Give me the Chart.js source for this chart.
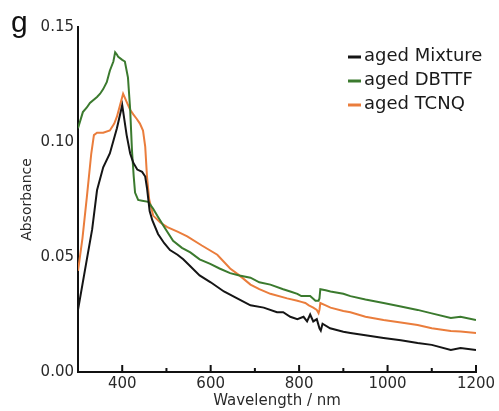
<!DOCTYPE html>
<html>
<head>
<meta charset="utf-8">
<script src="https://cdn.jsdelivr.net/npm/chart.js@4"></script>
<style>
  html, body { margin: 0; padding: 0; background: #fff; }
  #wrap { width: 499px; height: 411px; }
</style>
</head>
<body>
<div id="wrap"><canvas id="absChart" width="499" height="411"></canvas></div>
<script>
// ── UV-vis absorbance (aged samples) ──

const seriesNames = ['aged Mixture', 'aged DBTTF', 'aged TCNQ'];
const seriesColors = ['#151515', '#3b7a2e', '#ea7d3c'];

const mixNm  = [300,310,320,332,343,357,372,388,400,410,418,425,434,445,452,456,462,468,481,495,508,525,538,554,575,600,630,660,690,720,750,764,780,796,810,818,825,832,840,846,849,853,870,900,916,950,991,1030,1068,1100,1143,1165,1200];
const mixAbs = [0.027,0.038,0.049,0.062,0.079,0.089,0.095,0.106,0.116,0.103,0.095,0.091,0.088,0.087,0.085,0.080,0.070,0.066,0.060,0.056,0.053,0.051,0.049,0.046,0.042,0.039,0.035,0.032,0.029,0.028,0.026,0.026,0.024,0.023,0.024,0.022,0.025,0.022,0.023,0.019,0.018,0.021,0.019,0.0175,0.017,0.016,0.0148,0.0138,0.0126,0.0118,0.0096,0.0104,0.0096];

const dbNm  = [300,311,320,327,343,350,357,365,372,380,384,388,391,400,406,413,418,422,426,429,436,445,459,470,479,495,515,535,554,575,599,620,644,665,690,710,735,764,780,796,805,814,825,837,844,846,848,860,871,900,916,950,991,1030,1068,1100,1143,1165,1200];
const dbAbs = [0.106,0.113,0.115,0.117,0.1196,0.121,0.123,0.126,0.131,0.135,0.139,0.138,0.137,0.1357,0.135,0.128,0.114,0.0965,0.085,0.078,0.0748,0.0745,0.074,0.071,0.068,0.063,0.057,0.054,0.052,0.049,0.047,0.045,0.043,0.042,0.041,0.039,0.038,0.036,0.035,0.034,0.033,0.033,0.033,0.031,0.031,0.032,0.036,0.0355,0.035,0.034,0.033,0.0315,0.030,0.0285,0.027,0.0255,0.0235,0.024,0.0226];

const tcNm  = [300,310,320,330,336,343,357,372,382,388,395,402,411,418,425,433,440,447,452,456,461,470,486,502,525,547,580,615,644,665,690,710,735,773,796,805,814,822,832,840,844,846,848,860,871,900,916,950,991,1030,1068,1100,1143,1165,1200];
const tcAbs = [0.044,0.058,0.076,0.095,0.103,0.104,0.104,0.105,0.108,0.111,0.116,0.121,0.117,0.114,0.112,0.110,0.108,0.105,0.098,0.085,0.075,0.068,0.065,0.063,0.061,0.059,0.055,0.051,0.045,0.042,0.038,0.036,0.034,0.032,0.031,0.0305,0.030,0.029,0.028,0.027,0.0256,0.027,0.030,0.029,0.028,0.0265,0.026,0.024,0.0226,0.0215,0.0204,0.019,0.0178,0.0176,0.017];

const xMajorTicks = [400,600,800,1000,1200];
const xMinorTicks = [500,700,900,1100];
const yTicks = [0, 0.05, 0.10, 0.15];

const pts = (xs, ys) => xs.map((x, i) => ({ x, y: ys[i] }));
const seriesData = [pts(mixNm, mixAbs), pts(dbNm, dbAbs), pts(tcNm, tcAbs)];

// inward x ticks, legend and panel letter
const decor = {
  id: 'decor',
  afterDraw(chart) {
    const ctx = chart.ctx, sx = chart.scales.x, base = chart.chartArea.bottom;
    ctx.save();
    ctx.strokeStyle = '#111'; ctx.lineWidth = 2;
    xMajorTicks.forEach(v => { const p = sx.getPixelForValue(v); ctx.beginPath(); ctx.moveTo(p, base); ctx.lineTo(p, base - 7); ctx.stroke(); });
    xMinorTicks.forEach(v => { const p = sx.getPixelForValue(v); ctx.beginPath(); ctx.moveTo(p, base); ctx.lineTo(p, base - 4); ctx.stroke(); });

    ctx.font = '18px "DejaVu Sans"'; ctx.textBaseline = 'alphabetic'; ctx.fillStyle = '#1a1a1a';
    seriesNames.forEach((name, i) => {
      const yb = 61 + i * 24;
      ctx.strokeStyle = seriesColors[i]; ctx.lineWidth = 3;
      ctx.beginPath(); ctx.moveTo(348, yb - 4); ctx.lineTo(361, yb - 4); ctx.stroke();
      ctx.fillText(name, 364, yb);
    });

    ctx.font = '30px "Liberation Sans", Arial'; ctx.fillStyle = '#111';
    ctx.fillText('g', 11, 32);
    ctx.restore();
  }
};

new Chart(document.getElementById('absChart').getContext('2d'), {
  type: 'scatter',
  data: {
    datasets: seriesNames.map((n, i) => ({
      label: n, data: seriesData[i], showLine: true, borderColor: seriesColors[i],
      borderWidth: 2, pointRadius: 0, tension: 0, fill: false
    }))
  },
  options: {
    responsive: false, animation: false, events: [],
    layout: { padding: { top: 27, right: 23, left: 0, bottom: 0 } },
    plugins: { legend: { display: false }, tooltip: { enabled: false } },
    scales: {
      x: {
        type: 'linear', min: 300, max: 1200,
        afterBuildTicks: s => { s.ticks = xMajorTicks.map(v => ({ value: v })); },
        afterFit: s => { s.height = 39; },
        grid: { drawOnChartArea: false, drawTicks: false },
        border: { color: '#111', width: 2 },
        ticks: { padding: 3, color: '#2a2a2a', font: { family: 'DejaVu Sans', size: 15 }, maxRotation: 0, callback: v => String(v) },
        title: { display: true, text: 'Wavelength / nm', color: '#2a2a2a', font: { family: 'DejaVu Sans', size: 15 }, padding: { top: 0, bottom: 1 } }
      },
      y: {
        min: 0, max: 0.15,
        afterBuildTicks: s => { s.ticks = yTicks.map(v => ({ value: v })); },
        afterFit: s => { s.width = 78; },
        grid: { drawOnChartArea: false, drawTicks: false },
        border: { color: '#111', width: 2 },
        ticks: { padding: 4, color: '#2a2a2a', font: { family: 'DejaVu Sans', size: 15 }, callback: v => v.toFixed(2) },
        title: { display: true, text: 'Absorbance', color: '#2a2a2a', font: { family: 'DejaVu Sans', size: 14 }, padding: { top: 19, bottom: 0 } }
      }
    }
  },
  plugins: [decor]
});
</script>
</body>
</html>
